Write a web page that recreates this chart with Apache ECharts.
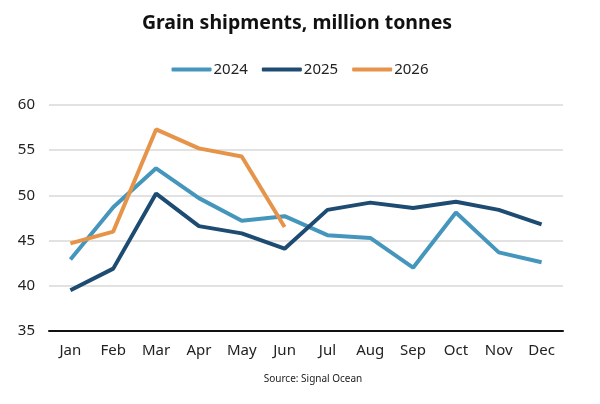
<!DOCTYPE html>
<html>
<head>
<meta charset="utf-8">
<script src="https://cdn.jsdelivr.net/npm/echarts@6/dist/echarts.min.js"></script>
<style>
  html, body { margin: 0; padding: 0; background: #fff; }
  #chart { width: 600px; height: 404px; }
</style>
</head>
<body>
<div id="chart"></div>
<script>
const months = ['Jan', 'Feb', 'Mar', 'Apr', 'May', 'Jun', 'Jul', 'Aug', 'Sep', 'Oct', 'Nov', 'Dec'];
const y2024 = [42.9, 48.7, 53.0, 49.7, 47.2, 47.7, 45.6, 45.3, 42.0, 48.1, 43.7, 42.6];
const y2025 = [39.5, 41.9, 50.2, 46.6, 45.8, 44.1, 48.4, 49.2, 48.6, 49.3, 48.4, 46.8];
const y2026 = [44.7, 46.0, 57.3, 55.2, 54.3, 46.5];

const font = '"Noto Sans", sans-serif';

let myChart = echarts.init(document.getElementById('chart'));

let option = {
  animation: false,
  textStyle: { fontFamily: font },
  title: [{
    text: 'Grain shipments, million tonnes',
    left: 292,
    top: 8,
    textAlign: 'center',
    textStyle: { fontSize: 19.5, fontWeight: 'bold', color: '#111', fontFamily: font }
  }, {
    text: 'Source: Signal Ocean',
    left: 308,
    top: 369,
    textAlign: 'center',
    textStyle: { fontSize: 10, fontWeight: 'normal', color: '#222', fontFamily: font }
  }],
  legend: {
    top: 57,
    left: 'center',
    itemWidth: 40,
    itemHeight: 4,
    itemGap: 14,
    icon: 'roundRect',
    textStyle: { fontSize: 15, color: '#222', padding: [0, 0, 0, -3] },
    data: ['2024', '2025', '2026']
  },
  grid: { left: 49, right: 37, top: 105, bottom: 73 },
  xAxis: {
    type: 'category',
    data: months,
    boundaryGap: true,
    axisLine: { lineStyle: { color: '#111', width: 2 } },
    axisTick: { show: false },
    axisLabel: { fontSize: 15, color: '#222', margin: 12 }
  },
  yAxis: {
    type: 'value',
    min: 35,
    max: 60,
    interval: 5,
    axisLine: { show: false },
    axisTick: { show: false },
    axisLabel: { fontSize: 15, color: '#222', margin: 14 },
    splitLine: { lineStyle: { color: '#d9d9d9', width: 1.5 } }
  },
  series: [{
    name: '2024',
    type: 'line',
    data: y2024,
    symbol: 'none',
    color: '#4596bd',
    lineStyle: { width: 4 }
  }, {
    name: '2025',
    type: 'line',
    data: y2025,
    symbol: 'none',
    color: '#1e4b72',
    lineStyle: { width: 4 }
  }, {
    name: '2026',
    type: 'line',
    data: y2026,
    symbol: 'none',
    color: '#e6944a',
    lineStyle: { width: 4 }
  }]
};

myChart.setOption(option);
</script>
</body>
</html>
